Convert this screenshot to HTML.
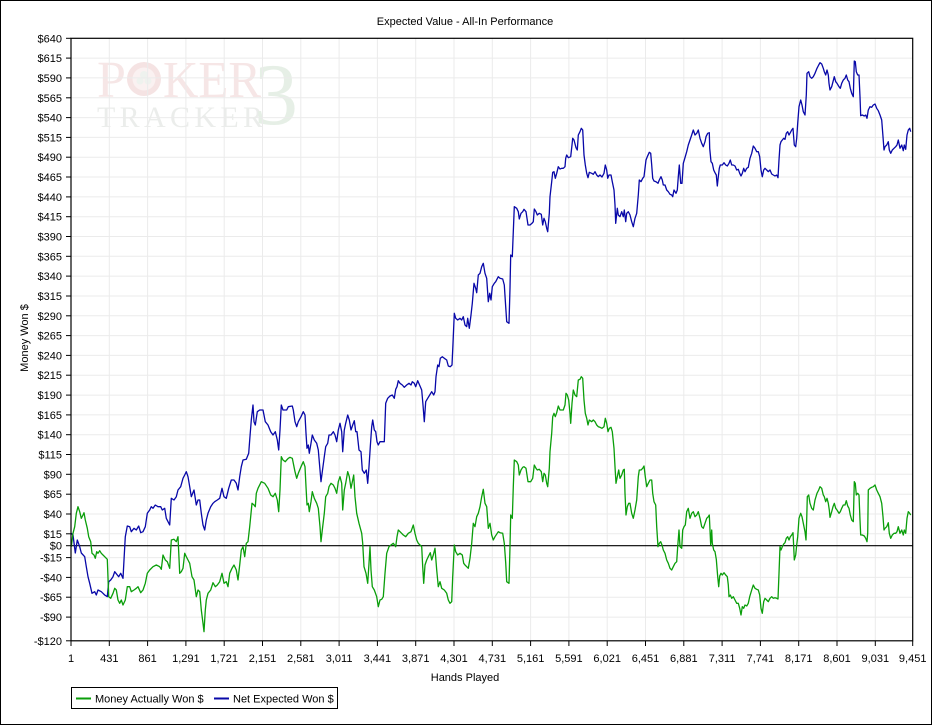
<!DOCTYPE html>
<html>
<head>
<meta charset="utf-8">
<style>
  html, body { margin:0; padding:0; background:#fff; }
  svg { display:block; }
  text { font-family: "Liberation Sans", "DejaVu Sans", sans-serif; font-size:11px; fill:#000; }
</style>
</head>
<body>
<svg width="933" height="726" viewBox="0 0 933 726" xmlns="http://www.w3.org/2000/svg">
  <rect x="0" y="0" width="933" height="726" fill="#fff"/>
  <rect x="0.5" y="0.5" width="931" height="724" fill="none" stroke="#000" stroke-width="1"/>

  <!-- Title -->
  <text x="465" y="25" text-anchor="middle">Expected Value - All-In Performance</text>

  <!-- Watermark -->
  <g>
    <text x="97" y="97" style="font-family:'Liberation Serif',serif;font-size:52px;fill:#f6e6e6">P</text>
    <circle cx="144" cy="79" r="17" fill="#f5e3e3"/>
    <circle cx="144" cy="79" r="11.5" fill="#faf1f1"/>
    <circle cx="144" cy="75" r="4" fill="#eef2ee"/>
    <circle cx="140" cy="81" r="3.5" fill="#eef2ee"/>
    <circle cx="148" cy="81" r="3.5" fill="#eef2ee"/>
    <text x="163" y="97" textLength="98" lengthAdjust="spacingAndGlyphs" style="font-family:'Liberation Serif',serif;font-size:52px;fill:#f6e6e6">KER</text>
    <text x="97" y="127" textLength="166" lengthAdjust="spacing" style="font-family:'Liberation Serif',serif;font-size:30px;fill:#ebedeb">TRACKER</text>
    <text x="254" y="124" style="font-family:'Liberation Serif',serif;font-size:88px;fill:#e6efe6">3</text>
  </g>

  <!-- Gridlines -->
  <g stroke="#ebebeb" stroke-width="1">
    <line x1="71" y1="58.1" x2="913" y2="58.1"/>
    <line x1="71" y1="77.9" x2="913" y2="77.9"/>
    <line x1="71" y1="97.8" x2="913" y2="97.8"/>
    <line x1="71" y1="117.6" x2="913" y2="117.6"/>
    <line x1="71" y1="137.4" x2="913" y2="137.4"/>
    <line x1="71" y1="157.2" x2="913" y2="157.2"/>
    <line x1="71" y1="177.0" x2="913" y2="177.0"/>
    <line x1="71" y1="196.9" x2="913" y2="196.9"/>
    <line x1="71" y1="216.7" x2="913" y2="216.7"/>
    <line x1="71" y1="236.5" x2="913" y2="236.5"/>
    <line x1="71" y1="256.3" x2="913" y2="256.3"/>
    <line x1="71" y1="276.1" x2="913" y2="276.1"/>
    <line x1="71" y1="296.0" x2="913" y2="296.0"/>
    <line x1="71" y1="315.8" x2="913" y2="315.8"/>
    <line x1="71" y1="335.6" x2="913" y2="335.6"/>
    <line x1="71" y1="355.4" x2="913" y2="355.4"/>
    <line x1="71" y1="375.2" x2="913" y2="375.2"/>
    <line x1="71" y1="395.1" x2="913" y2="395.1"/>
    <line x1="71" y1="414.9" x2="913" y2="414.9"/>
    <line x1="71" y1="434.7" x2="913" y2="434.7"/>
    <line x1="71" y1="454.5" x2="913" y2="454.5"/>
    <line x1="71" y1="474.3" x2="913" y2="474.3"/>
    <line x1="71" y1="494.2" x2="913" y2="494.2"/>
    <line x1="71" y1="514.0" x2="913" y2="514.0"/>
    <line x1="71" y1="533.8" x2="913" y2="533.8"/>
    <line x1="71" y1="557.6" x2="913" y2="557.6"/>
    <line x1="71" y1="577.4" x2="913" y2="577.4"/>
    <line x1="71" y1="597.2" x2="913" y2="597.2"/>
    <line x1="71" y1="617.1" x2="913" y2="617.1"/>
    <line x1="109.3" y1="38" x2="109.3" y2="641"/>
    <line x1="147.6" y1="38" x2="147.6" y2="641"/>
    <line x1="185.9" y1="38" x2="185.9" y2="641"/>
    <line x1="224.2" y1="38" x2="224.2" y2="641"/>
    <line x1="262.5" y1="38" x2="262.5" y2="641"/>
    <line x1="300.8" y1="38" x2="300.8" y2="641"/>
    <line x1="339.1" y1="38" x2="339.1" y2="641"/>
    <line x1="377.4" y1="38" x2="377.4" y2="641"/>
    <line x1="415.7" y1="38" x2="415.7" y2="641"/>
    <line x1="454.0" y1="38" x2="454.0" y2="641"/>
    <line x1="492.3" y1="38" x2="492.3" y2="641"/>
    <line x1="530.6" y1="38" x2="530.6" y2="641"/>
    <line x1="568.9" y1="38" x2="568.9" y2="641"/>
    <line x1="607.2" y1="38" x2="607.2" y2="641"/>
    <line x1="645.5" y1="38" x2="645.5" y2="641"/>
    <line x1="683.8" y1="38" x2="683.8" y2="641"/>
    <line x1="722.1" y1="38" x2="722.1" y2="641"/>
    <line x1="760.4" y1="38" x2="760.4" y2="641"/>
    <line x1="798.7" y1="38" x2="798.7" y2="641"/>
    <line x1="837.0" y1="38" x2="837.0" y2="641"/>
    <line x1="875.3" y1="38" x2="875.3" y2="641"/>
  </g>

  <!-- Zero line -->
  <line x1="71" y1="545.7" x2="913" y2="545.7" stroke="#000" stroke-width="1.2"/>

  <!-- Series: Net Expected Won (blue) -->
  <polyline fill="none" stroke="#0808a8" stroke-width="1.3" stroke-linejoin="round" points="
71.3,533.3 73,535 75.3,553 77.3,540 79.7,546.7 81.3,553 84.7,556.7 86.3,566.7 88,576.7 89.7,583.3 92,593.3 94.7,591.7 96.3,595 98,590 101.3,591.7 103,593.3 104.7,595 107.3,596.7 108.7,581.7 110.7,580 113,576.7 114.7,571.7 117.3,575 118.7,576.7 120.7,573.3 123,578.3 124,560 125.3,536.7 127.3,526 129.7,526.7 131.3,531.7 134,528.3 136.3,530 138.7,526 140.7,532.7 143,531.7 145.3,526.7 147.3,513.3 149.7,510 151.3,506.7 153,508.3 155.3,505 158,506.7 160.7,506.7 162.3,510 164.7,508.3 166.3,518.3 169.7,525 171.3,498.3 174,500 176.3,496.7 178,490 180.7,486.7 183,478.3 184.7,475 186.3,471.7 188,476.7 189.7,486.7 191.3,496.7 194,490 196.3,505 198,500 199.7,500 201.3,513.3 203,525 204.7,530 206.3,520 208,513.3 210.7,506.7 213,503.3 214.7,501.7 217.3,500 219.7,498.3 222,488.3 224,496.7 226.3,498.3 228.7,488.3 231.3,480 234,480 236.3,483.3 238,490 239.7,476.7 241.3,466.7 243,460 246.3,459.3 248.7,453.3 249.7,440 251.3,420 253,405 254,421.7 255.3,425 257.3,411.7 259.7,410 263,410 265.3,421.7 268,425 270.7,431.7 273,435 275.3,431.7 277.3,440 278.7,450 280,430 281.3,405 283,410 285.3,410
286.7,410 288.3,406.7 292.3,406 293.3,410 295,421.7 296.7,426.7 298.3,421.7 301,416.7 303.3,411.7 305,415 306,433.3 307,448.3 308.3,445 309.3,453.3 311,443.3 312.3,435 314.3,440 316.7,443.3 318.3,450 320,470 321,481.7 322.3,471.7 324.3,456.7 325.7,446.7 327.7,443.3 329,435 331,435 333.3,431.7 335,435 336.7,441.7 338.3,430 340,423.3 341.7,431.7 342.7,451.7 344.3,430 345.7,423.3 347.7,415 349.3,420 351,430 352.7,425 354.3,420.7 355.7,431.7 357,431.7 359,450 361,451.7 362.3,470 364.3,473.3 366.3,470 367.7,483.3 369,466.7 370.3,446.7 371.7,426.7 372.7,420 374.3,430 375.7,431.7 377,441.7 378.3,445 380,441.7 381.7,441.7 384.3,441.7 385.7,403.3 387.7,398.3 390,396 392.3,395 394.3,398.3 395.7,389.3 397,386.7 398.3,380.7 400,383.3 402.3,385 404.3,387.3 406.7,385 409,383.3 411,385 412.3,381.7 414.3,383.3 415.7,386.7 417.7,380.7 420,386 421.7,390 423,405 424.3,421.7 425.7,401.7 427.7,398.3 429.7,395 431.7,391.7 433.7,395 435,391.7 436,376.7 437.7,365 439,366.7 440.3,358.3 442.3,356.7 444.3,358.3 446.7,360 448.3,366 450.3,366.7 452,365 453,343.3 454.3,313.3 455.7,318.3 457.7,320 460,318.3 461.7,320 463.3,316.7 465,325 466.7,326.7 467.7,318.3 469.3,328.3 471,315 472.3,303.3 474,283.3 475.7,288.3 476.7,292.7 478.3,275 480,273.3 481.7,266.7 483.3,263.3 485,273.3 486.7,278.3 488.3,301.7 489.7,293.3 491,300 492.3,286.7 494.3,283.3 495.7,281.7 498.3,276.7
500,278.3 502.7,279 504.3,285 505.7,306.7 506.7,321.7 509,323.3 510,288.3 510.7,255 512.3,256.7 513.3,231.7 514.3,206.7 516.7,208.3 518.3,211.7 519.3,219 521,213.3 522.7,211.7 524,209.3 526,211.7 528,225 530,225 532,223.3 533.3,221.7 534.3,209 536,211.7 537.3,215 539.3,213.3 541.3,214.3 542.7,225 544,218.3 545.3,221.7 546.7,228.3 547.7,231.7 549.3,213.3 550,196.7 551.7,181.7 552.7,172.3 554,171.7 555.3,178.3 556.7,173.3 558.3,166.7 560,169 561.7,168.3 563.3,168.3 565,166.7 565.7,158.3 566.7,155 568.3,157.7 570.7,156.7 572,145 572.7,138.3 574,140 576,147.7 577.3,150 578.3,135 580,131.7 581.3,128.3 582.7,130 584,155 585.3,165 586.7,173.3 588,177.7 589.3,172.3 591.7,173.3 593.3,174.3 595,171.7 596.7,175 598.3,176.7 600,175 602,177 604,173.3 605.3,165 606.7,170 607.7,178.3 609,175 611,175 612.3,181.7 614,190 615,205 615.7,223.3 617.3,208.3 618.3,215 620,216.7 621.7,211.7 623.3,216.7 624.3,210 625.7,221.7 626.7,213.3 628.3,211.7 630,215 631.7,221.7 633.3,226.7 635,218.3 636.7,213.3 638.3,195 639.3,180 641,181.7 642.7,178.3 644,176.7 645,168.3 646,160 647.3,156.7 649.3,152.3 650.7,153.3 651.7,165 652.7,178.3 654,181 656,181.7 658,183.3 659.3,180 661,176.7 662.3,180 663.3,185 665,185 666.7,190 668.3,191.7 670,194.3 671.7,195 672.7,196.7 674,190 676,193.3 677.3,190 678.3,176.7 679.3,165 680.7,183.3 682,183.3 683.3,163.3 684.3,160 686.7,151.7 688.3,145 690,140 691.7,135 693.3,130 695,135 696.7,133.3 698.3,130 700,138.3 701.7,143.3 703.3,146.7
705,141.7 706,136.7 707.7,133.3 709.3,132.7 709.7,148.3 711,161.7 712.3,163.3 713.7,170 715,172.7 716.3,175 717.3,186 718.3,176.7 719.3,168.3 720.3,165 722.3,165 724,162.7 725.7,165 727.3,166 729,163.3 730.3,160 731.7,165 733.3,165 735,166 736.7,170 738.3,169.3 739.7,173.3 741,176 742.3,173.3 743.7,168.3 745,171.7 746.7,168.3 748.3,167.3 750,158.3 751.7,153.3 753.3,146 755,148.3 756.7,151.7 758.3,151.7 759.7,156.7 761,170 762.3,176.7 763.7,170 765,168.3 766.7,170 768.3,171.7 770,170 771.7,174 773.3,175 775,176 776.7,175 778,177.7 779,160 780,145 781,141.7 782.3,140 783.7,138.3 785,139.3 786.3,133.3 787.7,131.7 789,135 790.3,132.7 791.7,130 793,128.3 794.3,145 795.7,146.7 796.7,138.3 797.7,123.3 799,106.7 800.7,100 802,105 803.3,111.7 805,115 806.3,95 807,73.3 808.7,71.7 810,76.7 811.7,78.3 813.3,76.7 815,73.3 817,68.3 818.7,65 820,62.7 821.7,64 823.3,68.3 824.3,71.7 825.7,75 827,70 828.3,75 829,83.3 830,90 831.7,86.7 833,81.7 834.3,76.7 835.7,81.7 837,83.3 839,86.7 840.3,88.3 841.7,83.3 843.3,80 845,78.3 846.3,75 847.7,80 849,81.7 850.3,88.3 851.7,93.3 853.3,96.7 854.3,61 855.3,61.7 856.3,71.7 857.7,75 859,75 860,96.7 860.7,115.7 862.3,115 864.3,116 865.7,115 867,118.3 868.3,110 870,106.7 871.7,107.3 873.3,105 875,104 876.7,108.3 878.3,110.7 880,115 881.7,120 883,136.7 884,150 885,146.7 886.7,145 888.3,141.7 889.3,150 890.7,153.3 892.3,150 894,148.3 895.7,146.7 897,145 898.3,140 900,148.3 901.7,145 903.3,150.7 904.3,145 905.7,149.3 907,135 908.3,130 909.7,128.3 910.7,131.7"/>

  <!-- Series: Money Actually Won (green) -->
  <polyline fill="none" stroke="#0a9e0a" stroke-width="1.3" stroke-linejoin="round" points="
71.3,546.7 73,533.3 74.7,526.7 76.3,513.3 78,506.7 79.7,511.7 81.3,518.3 83,515 84,512.7 85.3,520 87.3,528.3 88.7,536.7 90.7,541.7 92,553.3 94,555 95.3,558.3 96.7,551.7 98,553.3 99.7,550.7 101.3,553.3 103,555 104.7,556.7 107.3,559.3 108.7,596.7 110.7,598.3 113,593.3 114.7,588.3 116.3,590 118,600 119.7,603.3 121.3,600 123,605 125.3,600 127.3,586.7 129.7,586.7 131.3,591.7 134,590 136.3,588.3 138,586.7 140.7,592.7 143,590 145.3,583.3 147.3,573.3 149.7,570 153,566.7 156.3,565 159.7,566.7 161.3,569.3 163,555 165.3,560 167.3,561.7 169.7,568.3 171.3,540 174,539.3 176.3,541.7 178,536.7 179.7,573.3 181.3,571.7 183,568.3 184.7,553.3 186.3,556.7 188,560 189.7,563.3 192,576.7 194,580 196.3,596.7 198,590 199.7,591.7 201.3,610 203,623.3 204,631.7 205.3,610 206.3,600 208,593.3 210.7,590 213,582.7 215.3,586.7 217.3,585 219.7,581.7 222,573.3 224,583.3 226.3,581.7 228,586.7 229.7,573.3 232,568.3 234,565 236.3,570 238,580 239.7,565 241.3,550 243,546.7 244.7,556.7 246.3,543.3 248,541.7 249.7,526.7 252,503.3 254,505 255.3,506.7 256.3,493.3 258,488.3 261.3,481.7 264.7,483.3 268,488.3 270.7,495 273,496.7 275.3,493.3 277.3,500 278.7,511.7 280,490 281.3,456.7 283,460 285.3,461.7
286.7,460 288.3,458.3 290,457.3 292.3,458.3 293.3,463.3 295,471.7 296.7,478.3 298.3,473.3 301,466.7 303.3,461.7 305,466.7 306,486.7 307,505 308.3,503.3 309.3,511.7 311,501.7 312.3,491.7 314.3,498.3 316.7,503.3 318.3,508.3 320,526.7 321,541.7 322.3,530 324.3,513.3 325.7,496.7 327.7,493.3 329,486.7 331,483.3 333.3,485 335,488.3 336.7,493.3 338.3,481.7 340,476.7 341.7,483.3 342.7,510 344.3,490 345.7,483.3 347.7,471.7 349.3,476.7 351,488.3 352.7,480 353.7,475 355,496.7 356.7,513.3 359,523.3 361.7,533.3 362.7,543.3 364,566.7 366,573.3 367.7,583.3 369,563.3 370,546.7 371,570 372.3,586.7 374.3,590 376.7,596.7 378.3,606.7 380,600 381.7,599.3 383.3,596.7 385,573.3 386.7,553.3 389,546.7 391,545 393.3,543.3 395.7,546.7 397,536.7 398.3,530 401,532.7 403.3,535 405.7,536.7 408.3,533.3 411,531.7 413.3,525 415,533.3 416.7,540 418.3,543.3 420,545 421.7,546.7 422.7,566.7 423.7,583.3 425,565 426.7,560 428.3,556.7 430.3,552.7 431.7,560 433.3,555 435,548.3 436.7,570 438.3,586.7 440,581.7 441.7,588.3 444.3,590 446.7,593.3 448.3,600 450,603.3 451.7,601.7 452.7,576.7 454.3,545 455.7,551.7 457.7,555 460,553.3 462.3,555 463.7,563.3 465,565 466.7,566.7 468.3,568.3 470,558.3 471.7,543.3 473.3,523.3 475,526.7 476.7,516.7 478.3,513.3 480,506.7 481.7,496.7 483.3,489.3 485,503.3 486.7,506.7 488.3,528.3 490,523.3 491.7,535 493.3,540 495,536.7 498.3,531.7
500,532.7 502.7,533.3 504.3,543.3 505.7,562.7 506.7,581.7 509,583.3 510,546.7 510.7,515 512.3,518.3 513.3,486.7 514.3,460 516.7,461.7 518.3,465 519.3,475 521,470 522.7,467.3 524,466.7 526,468.3 528,481.7 530.7,481.7 532.7,478.3 534.3,465 536,468.3 537.3,470 539.3,469.3 541.3,471.7 542.7,481.7 544,473.3 545.3,475 546.7,483.3 547.7,486.7 549.3,468.3 550,451.7 551.7,433.3 552.7,416.7 554,413.3 555.3,416.7 556.7,412.7 558.3,406 560,410 561.7,410 563.3,410 565,405 566,393.3 567.3,395 568.7,400 570,413.3 570.7,423.3 572,403.3 573.3,390 575,395 576.7,396.7 578.3,380 580,379.3 581.3,376.7 582.7,378.3 584,400 585.3,413.3 586.7,418.3 588,425 589.3,420 591.7,421.7 593.3,420 595,421.7 596.7,425 598.3,426.7 600,427.3 602,428.3 604,426.7 605.3,418.3 606.7,423.3 608,431.7 609.3,428.3 611,427.3 612.3,431.7 614,448.3 615,466.7 616,483.3 617.3,476.7 618.7,470 620,478.3 621.7,475 623.3,470 624.3,469.3 625,493.3 626,515 627.3,506.7 628.7,503.3 630,503.3 631.7,513.3 633.3,518.3 635,510 636.7,500 638.3,476.7 639.3,470 641,470 642.7,468.3 644,466 645.3,476.7 646.7,486.7 648.3,483.3 650,480 651.7,480 652.7,493.3 654,501.7 655.7,505 656.7,526.7 658,546.7 659.3,543.3 660.7,541.7 662,545 663.3,550 665,553.3 666.7,560 668.3,563.3 670,568.3 671.7,570 673.3,566.7 675,563.3 676.7,561.7 677.7,546.7 679,530 680,546.7 681.7,548.3 682.7,530 684,526.7 685.3,525 686.7,511.7 688.3,508.3 690,518.3 691.7,513.3 693.3,511.7 695,516.7 696.7,515 698.3,511.7 700,518.3 701.7,526.7 703.3,528.3
705,523.3 706.7,518.3 708.3,516.7 709.3,515 710,530 710.7,545 711.7,530 712.3,543.3 713.7,550 715,551.7 716.3,559.3 717.7,576.7 718.7,586.7 719.7,576 721,573.3 722.3,575 724,572.7 725.7,575 727.3,576.7 728.3,585 729,596.7 730.3,595 731.7,598.3 733.3,596.7 735,600 736.7,603.3 738.3,603.3 739.7,608.3 741,615 742.3,606.7 743.7,608.3 745,605 746.7,606 748.3,603.3 749.7,596.7 751.7,590 753.3,585 755,588.3 756.7,589.3 758.3,590 759.7,595 761,608.3 762.3,613.3 763.7,601.7 765,598.3 766.7,600 768.3,601.7 770,598.3 771.7,596.7 773.3,598.3 775,597.7 776.7,598.3 778,599 779,573.3 780,546.7 781,550 782.3,546.7 783.7,544 785,542.7 786.3,538.3 787.7,536.7 789,540 790.3,536.7 791.7,535 793,532.7 793.7,546.7 794.3,560 795.7,555 796.7,545 797.7,536.7 799,518.3 800.7,513.3 802,516.7 803.3,523.3 805,531.7 806,540 806.7,520 807.3,496.7 808.7,495 810,503.3 811.7,508.3 813.3,510 815,500 817,493.3 818.7,490 820,486.7 821.7,488.3 823.3,495 824.3,496.7 825.7,501.7 827,498.3 828.3,503.3 829.3,510 830,517.3 831.7,511.7 833,506.7 834.3,503.3 835.7,508.3 837,510 839,513.3 840.3,511.7 841.7,508.3 843.3,505 845,505 846.3,500.7 847.7,506 849,508.3 850.3,515 851.7,520 853.3,521.7 854.3,481.7 855.3,483.3 856.3,495 857.7,493.3 859,495 860,520 860.7,535 862.3,535 864.3,536 865.7,538.3 867,541.7 867.7,533.3 868.3,490 870,488.3 871.7,487.3 873.3,486.7 875,485 876.7,490 878.3,493.3 880,496.7 881.7,503.3 883,516.7 884,530 885,528.3 886.7,526.7 888.3,522.7 889.3,533.3 890.7,538.3 892.3,535 894,533.3 895.7,533.3 897,531.7 898.3,526.7 900,533.3 901.7,530 903.3,535 904.3,530 905.7,533.3 907,518.3 908.3,511.7 909.7,513.3 910.7,515"/>

  <!-- Plot border -->
  <rect x="71" y="38.3" width="841.7" height="602.5" fill="none" stroke="#000" stroke-width="1.2"/>

  <!-- Y ticks -->
  <g stroke="#000" stroke-width="1">
    <line x1="66" y1="38.3" x2="71" y2="38.3"/>
    <line x1="66" y1="58.1" x2="71" y2="58.1"/>
    <line x1="66" y1="77.9" x2="71" y2="77.9"/>
    <line x1="66" y1="97.8" x2="71" y2="97.8"/>
    <line x1="66" y1="117.6" x2="71" y2="117.6"/>
    <line x1="66" y1="137.4" x2="71" y2="137.4"/>
    <line x1="66" y1="157.2" x2="71" y2="157.2"/>
    <line x1="66" y1="177.0" x2="71" y2="177.0"/>
    <line x1="66" y1="196.9" x2="71" y2="196.9"/>
    <line x1="66" y1="216.7" x2="71" y2="216.7"/>
    <line x1="66" y1="236.5" x2="71" y2="236.5"/>
    <line x1="66" y1="256.3" x2="71" y2="256.3"/>
    <line x1="66" y1="276.1" x2="71" y2="276.1"/>
    <line x1="66" y1="296.0" x2="71" y2="296.0"/>
    <line x1="66" y1="315.8" x2="71" y2="315.8"/>
    <line x1="66" y1="335.6" x2="71" y2="335.6"/>
    <line x1="66" y1="355.4" x2="71" y2="355.4"/>
    <line x1="66" y1="375.2" x2="71" y2="375.2"/>
    <line x1="66" y1="395.1" x2="71" y2="395.1"/>
    <line x1="66" y1="414.9" x2="71" y2="414.9"/>
    <line x1="66" y1="434.7" x2="71" y2="434.7"/>
    <line x1="66" y1="454.5" x2="71" y2="454.5"/>
    <line x1="66" y1="474.3" x2="71" y2="474.3"/>
    <line x1="66" y1="494.2" x2="71" y2="494.2"/>
    <line x1="66" y1="514.0" x2="71" y2="514.0"/>
    <line x1="66" y1="533.8" x2="71" y2="533.8"/>
    <line x1="66" y1="545.7" x2="71" y2="545.7"/>
    <line x1="66" y1="557.6" x2="71" y2="557.6"/>
    <line x1="66" y1="577.4" x2="71" y2="577.4"/>
    <line x1="66" y1="597.2" x2="71" y2="597.2"/>
    <line x1="66" y1="617.1" x2="71" y2="617.1"/>
    <line x1="66" y1="640.8" x2="71" y2="640.8"/>
  </g>
  <g text-anchor="end">
    <text x="62" y="42.3">$640</text>
    <text x="62" y="62.1">$615</text>
    <text x="62" y="81.9">$590</text>
    <text x="62" y="101.8">$565</text>
    <text x="62" y="121.6">$540</text>
    <text x="62" y="141.4">$515</text>
    <text x="62" y="161.2">$490</text>
    <text x="62" y="181.0">$465</text>
    <text x="62" y="200.9">$440</text>
    <text x="62" y="220.7">$415</text>
    <text x="62" y="240.5">$390</text>
    <text x="62" y="260.3">$365</text>
    <text x="62" y="280.1">$340</text>
    <text x="62" y="300.0">$315</text>
    <text x="62" y="319.8">$290</text>
    <text x="62" y="339.6">$265</text>
    <text x="62" y="359.4">$240</text>
    <text x="62" y="379.2">$215</text>
    <text x="62" y="399.1">$190</text>
    <text x="62" y="418.9">$165</text>
    <text x="62" y="438.7">$140</text>
    <text x="62" y="458.5">$115</text>
    <text x="62" y="478.3">$90</text>
    <text x="62" y="498.2">$65</text>
    <text x="62" y="518.0">$40</text>
    <text x="62" y="537.8">$15</text>
    <text x="62" y="549.7">$0</text>
    <text x="62" y="561.6">-$15</text>
    <text x="62" y="581.4">-$40</text>
    <text x="62" y="601.2">-$65</text>
    <text x="62" y="621.1">-$90</text>
    <text x="62" y="644.8">-$120</text>
  </g>

  <!-- X ticks -->
  <g stroke="#000" stroke-width="1">
    <line x1="71" y1="641" x2="71" y2="646"/>
    <line x1="109.3" y1="641" x2="109.3" y2="646"/>
    <line x1="147.6" y1="641" x2="147.6" y2="646"/>
    <line x1="185.9" y1="641" x2="185.9" y2="646"/>
    <line x1="224.2" y1="641" x2="224.2" y2="646"/>
    <line x1="262.5" y1="641" x2="262.5" y2="646"/>
    <line x1="300.8" y1="641" x2="300.8" y2="646"/>
    <line x1="339.1" y1="641" x2="339.1" y2="646"/>
    <line x1="377.4" y1="641" x2="377.4" y2="646"/>
    <line x1="415.7" y1="641" x2="415.7" y2="646"/>
    <line x1="454.0" y1="641" x2="454.0" y2="646"/>
    <line x1="492.3" y1="641" x2="492.3" y2="646"/>
    <line x1="530.6" y1="641" x2="530.6" y2="646"/>
    <line x1="568.9" y1="641" x2="568.9" y2="646"/>
    <line x1="607.2" y1="641" x2="607.2" y2="646"/>
    <line x1="645.5" y1="641" x2="645.5" y2="646"/>
    <line x1="683.8" y1="641" x2="683.8" y2="646"/>
    <line x1="722.1" y1="641" x2="722.1" y2="646"/>
    <line x1="760.4" y1="641" x2="760.4" y2="646"/>
    <line x1="798.7" y1="641" x2="798.7" y2="646"/>
    <line x1="837.0" y1="641" x2="837.0" y2="646"/>
    <line x1="875.3" y1="641" x2="875.3" y2="646"/>
    <line x1="912.7" y1="641" x2="912.7" y2="646"/>
  </g>
  <g text-anchor="middle">
    <text x="71" y="662">1</text>
    <text x="109.3" y="662">431</text>
    <text x="147.6" y="662">861</text>
    <text x="185.9" y="662">1,291</text>
    <text x="224.2" y="662">1,721</text>
    <text x="262.5" y="662">2,151</text>
    <text x="300.8" y="662">2,581</text>
    <text x="339.1" y="662">3,011</text>
    <text x="377.4" y="662">3,441</text>
    <text x="415.7" y="662">3,871</text>
    <text x="454.0" y="662">4,301</text>
    <text x="492.3" y="662">4,731</text>
    <text x="530.6" y="662">5,161</text>
    <text x="568.9" y="662">5,591</text>
    <text x="607.2" y="662">6,021</text>
    <text x="645.5" y="662">6,451</text>
    <text x="683.8" y="662">6,881</text>
    <text x="722.1" y="662">7,311</text>
    <text x="760.4" y="662">7,741</text>
    <text x="798.7" y="662">8,171</text>
    <text x="837.0" y="662">8,601</text>
    <text x="875.3" y="662">9,031</text>
    <text x="912.7" y="662">9,451</text>
  </g>

  <!-- Axis titles -->
  <text x="465" y="681" text-anchor="middle">Hands Played</text>
  <text x="0" y="0" text-anchor="middle" transform="translate(28,338) rotate(-90)">Money Won $</text>

  <!-- Legend -->
  <rect x="71.5" y="687.5" width="266" height="21" fill="#fff" stroke="#000" stroke-width="1"/>
  <line x1="76" y1="698.5" x2="91" y2="698.5" stroke="#0a9e0a" stroke-width="2"/>
  <text x="95" y="702.5">Money Actually Won $</text>
  <line x1="214" y1="698.5" x2="229" y2="698.5" stroke="#0808a8" stroke-width="2"/>
  <text x="233" y="702.5">Net Expected Won $</text>
</svg>
</body>
</html>
